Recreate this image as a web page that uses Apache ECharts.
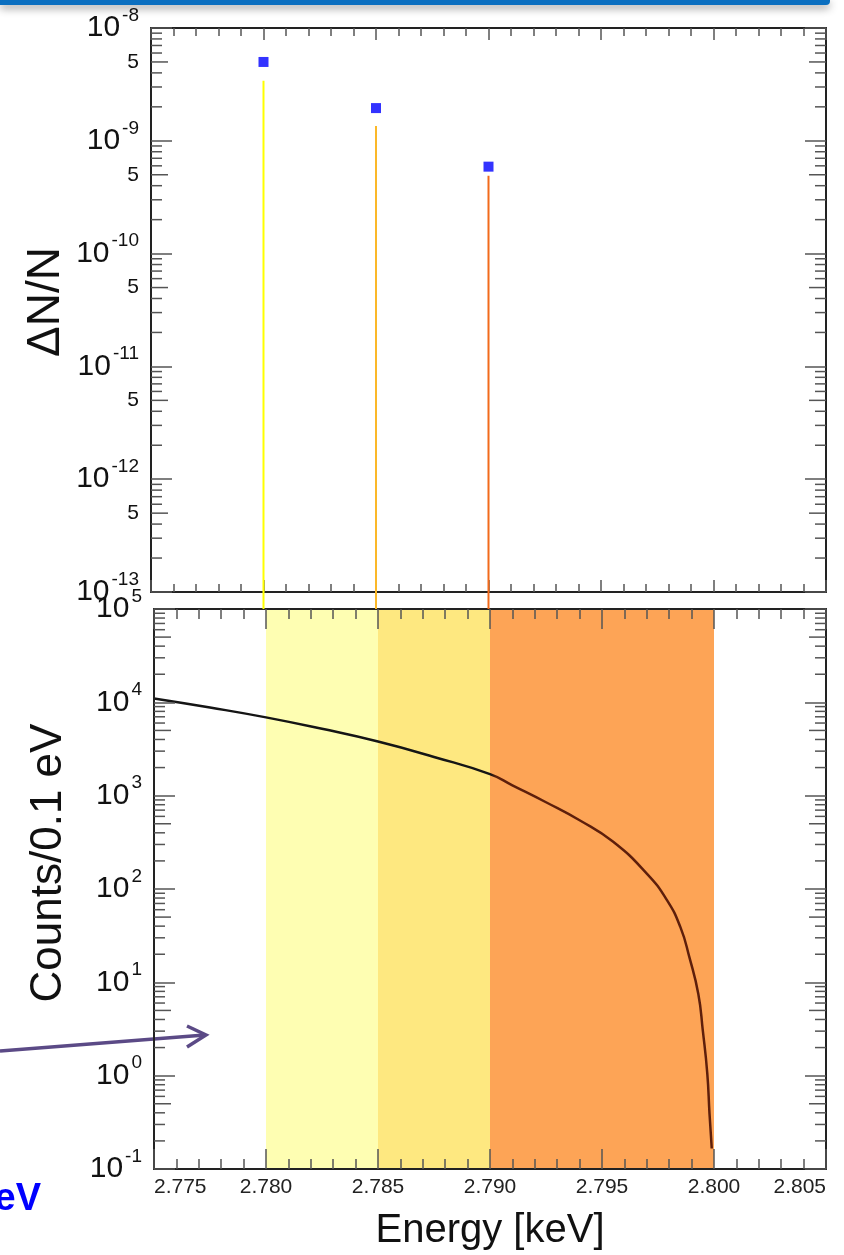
<!DOCTYPE html>
<html>
<head>
<meta charset="utf-8">
<script src="https://cdn.jsdelivr.net/npm/echarts@6.0.0/dist/echarts.min.js"></script>
<style>
html, body { margin: 0; padding: 0; background: #fff; }
#chart { width: 844px; height: 1255px; }
</style>
</head>
<body>
<div id="chart"></div>
<script>
// energy window shared by both panels
const energyMin = 2.775
const energyMax = 2.805
const energyStep = 0.005

// top panel: sensitivity for each threshold
const thresholdEnergy = [2.780, 2.785, 2.790]
const deltaN = [5.0e-9, 1.95e-9, 5.9e-10]
const deltaLineTop = [3.4e-9, 1.35e-9, 4.9e-10]
const deltaMin = 1e-13
const deltaMax = 1e-8

// bottom panel: spectrum close to the endpoint
const specEnergy = [2.775, 2.7775, 2.780, 2.7825, 2.785, 2.7875, 2.790, 2.791, 2.7925, 2.794, 2.7955, 2.797, 2.7979, 2.7985, 2.7989, 2.7993, 2.7995, 2.7997, 2.7998, 2.7999]
const specCounts = [1.1e4, 8.8e3, 6.9e3, 5.2e3, 3.8e3, 2.6e3, 1.7e3, 1.29e3, 850, 545, 320, 146, 76, 39, 18.6, 7.5, 3.05, 1.06, 0.39, 0.166]
const countsMin = 0.1
const countsMax = 1e5

// shaded windows
const bandFrom = [2.780, 2.785, 2.790]
const bandTo = [2.785, 2.790, 2.800]

const thresholdColors = ['#ffff00', '#fbb829', '#f26a1b']
const bandColors = ['#fefeb2', '#fee880', '#fda456']
const font = '"Liberation Sans", Arial, Helvetica, sans-serif'
const gapPx = 17

// minor log ticks 2..9 on both sides of each panel
function logMinors (lo, hi) {
  let out = []
  for (let e = lo; e < hi; e++) {
    for (let m = 2; m <= 9; m++) {
      out.push([energyMin, m * Math.pow(10, e)])
      out.push([energyMax, m * Math.pow(10, e)])
    }
  }
  return out
}
let fiveLabels = []
for (let e = -13; e < -8; e++) fiveLabels.push([energyMin, 5 * Math.pow(10, e)])

const frame = { show: true, onZero: false, lineStyle: { color: '#222', width: 2 } }
const tickStyle = { color: '#555', width: 1.5 }

function logLabel (v) {
  let e = Math.round(Math.log10(v))
  return '{b|10}{s|' + e + '}'
}
const logRich = {
  b: { fontSize: 30, lineHeight: 44, fontFamily: font, color: '#111' },
  s: { fontSize: 19, lineHeight: 19, verticalAlign: 'top', fontFamily: font, color: '#111', padding: [0, 0, 0, 2] }
}

function energyAxis (grid, pos, majorLen, minorLen, labels) {
  let ax = {
    type: 'value', gridIndex: grid, position: pos, z: 10,
    min: energyMin, max: energyMax, interval: energyStep,
    axisLine: frame, splitLine: { show: false },
    axisTick: { show: true, inside: true, length: majorLen, lineStyle: tickStyle },
    minorTick: { show: true, splitNumber: 5, length: minorLen, lineStyle: tickStyle },
    axisLabel: { show: false }
  }
  if (labels) {
    ax.axisLabel = {
      show: true, margin: 8, fontSize: 21, fontFamily: font, color: '#222',
      showMinLabel: true, showMaxLabel: true, alignMinLabel: 'left', alignMaxLabel: 'right',
      formatter: v => v.toFixed(3)
    }
    ax.name = 'Energy [keV]'
    ax.nameLocation = 'middle'
    ax.nameGap = 42
    ax.nameTextStyle = { fontSize: 40, fontFamily: font, color: '#111' }
  }
  return ax
}

function logAxis (grid, pos, lo, hi, labels) {
  return {
    type: 'log', logBase: 10, gridIndex: grid, position: pos, z: 10,
    min: lo, max: hi, splitNumber: 6,
    axisLine: frame, splitLine: { show: false }, minorTick: { show: false },
    axisTick: { show: true, inside: true, length: 21, lineStyle: tickStyle },
    axisLabel: labels ? {
      show: true, margin: 12, fontSize: 30, formatter: logLabel, rich: logRich,
      showMinLabel: true, showMaxLabel: true, hideOverlap: false
    } : { show: false }
  }
}

function minorTickItem (params, api) {
  let x = api.value(0)
  let y = api.value(1)
  let p = api.coord([x, y])
  let m = y / Math.pow(10, Math.floor(Math.log10(y) + 1e-9))
  let len = Math.abs(m - 5) < 0.01 ? 17 : 11
  let dir = x < (energyMin + energyMax) / 2 ? 1 : -1
  return {
    type: 'line',
    shape: { x1: p[0], y1: p[1], x2: p[0] + dir * len, y2: p[1] },
    style: { stroke: '#555', lineWidth: 1.5 }
  }
}

// curve turns dark brown once it enters the orange window
const curveSplit = (2.790 - specEnergy[0]) / (specEnergy[specEnergy.length - 1] - specEnergy[0])

const chart = echarts.init(document.getElementById('chart'))
chart.setOption({
  animation: false,
  backgroundColor: '#fff',
  grid: [
    { left: 151, top: 28, width: 675, height: 564, containLabel: false, outerBoundsMode: 'none' },
    { left: 154, top: 609, width: 672, height: 560, containLabel: false, outerBoundsMode: 'none' }
  ],
  xAxis: [
    energyAxis(0, 'bottom', 12, 8, false),
    energyAxis(0, 'top', 12, 8, false),
    energyAxis(1, 'bottom', 20, 10, true),
    energyAxis(1, 'top', 20, 10, false)
  ],
  yAxis: [
    logAxis(0, 'left', deltaMin, deltaMax, true),
    logAxis(0, 'right', deltaMin, deltaMax, false),
    logAxis(1, 'left', countsMin, countsMax, true),
    logAxis(1, 'right', countsMin, countsMax, false)
  ],
  series: [
    {
      // shaded windows
      type: 'custom', xAxisIndex: 2, yAxisIndex: 2, z: 1, silent: true,
      data: bandFrom.map((f, i) => [f, bandTo[i]]),
      renderItem: (params, api) => {
        let a = api.coord([api.value(0), countsMax])
        let b = api.coord([api.value(1), countsMin])
        return {
          type: 'rect',
          shape: { x: a[0], y: a[1], width: b[0] - a[0], height: b[1] - a[1] },
          style: { fill: bandColors[params.dataIndex] }
        }
      }
    },
    {
      type: 'line', xAxisIndex: 2, yAxisIndex: 2, z: 3,
      data: specEnergy.map((e, i) => [e, specCounts[i]]),
      showSymbol: false, smooth: 0.5,
      lineStyle: {
        width: 2.5,
        color: {
          type: 'linear', x: 0, y: 0, x2: 1, y2: 0,
          colorStops: [
            { offset: 0, color: '#151515' },
            { offset: curveSplit, color: '#151515' },
            { offset: curveSplit + 0.01, color: '#5e1f0b' },
            { offset: 1, color: '#5e1f0b' }
          ]
        }
      }
    },
    {
      // threshold lines running down into the lower panel
      type: 'custom', xAxisIndex: 0, yAxisIndex: 0, z: 12, clip: false,
      data: thresholdEnergy.map((e, i) => [e, deltaLineTop[i]]),
      renderItem: (params, api) => {
        let top = api.coord([api.value(0), api.value(1)])
        let bottom = api.coord([api.value(0), deltaMin])
        return {
          type: 'line',
          shape: { x1: top[0], y1: top[1], x2: bottom[0], y2: bottom[1] + gapPx },
          style: { stroke: thresholdColors[params.dataIndex], lineWidth: 2 }
        }
      }
    },
    {
      type: 'scatter', xAxisIndex: 0, yAxisIndex: 0, z: 12,
      data: thresholdEnergy.map((e, i) => [e, deltaN[i]]),
      symbol: 'rect', symbolSize: 10,
      itemStyle: { color: '#0000ff' }
    },
    {
      type: 'custom', xAxisIndex: 0, yAxisIndex: 0, z: 11, clip: false,
      data: logMinors(-13, -8), renderItem: minorTickItem
    },
    {
      type: 'custom', xAxisIndex: 2, yAxisIndex: 2, z: 11, clip: false,
      data: logMinors(-1, 5), renderItem: minorTickItem
    },
    {
      // "5" labels between decades on the upper panel
      type: 'custom', xAxisIndex: 0, yAxisIndex: 0, z: 11, clip: false,
      data: fiveLabels,
      renderItem: (params, api) => {
        let p = api.coord([api.value(0), api.value(1)])
        return {
          type: 'text', x: p[0] - 12, y: p[1],
          style: { text: '5', fontSize: 21, fontFamily: font, fill: '#111', align: 'right', verticalAlign: 'middle' }
        }
      }
    }
  ],
  graphic: [
    {
      type: 'rect', x: 0, y: 0, shape: { width: 830, height: 5, r: [0, 0, 4, 0] },
      style: { fill: '#0b6fc0', shadowBlur: 8, shadowColor: 'rgba(0,0,0,0.45)', shadowOffsetY: 3 }
    },
    {
      type: 'polyline', shape: { points: [[0, 1051], [205, 1035]] },
      style: { stroke: '#5b4a86', lineWidth: 3.5, fill: null }
    },
    {
      type: 'polyline', shape: { points: [[187, 1026], [206, 1035], [187, 1047]] },
      style: { stroke: '#5b4a86', lineWidth: 3.5, fill: null }
    },
    {
      type: 'text', x: 41, y: 1200,
      style: { text: 'eV', fontSize: 38, fontWeight: 'bold', fontFamily: font, fill: '#0000ff', align: 'right', verticalAlign: 'middle' }
    },
    {
      type: 'text', x: 46, y: 302, rotation: Math.PI / 2,
      style: { text: 'ΔN/N', fontSize: 46, fontFamily: font, fill: '#111', align: 'center', verticalAlign: 'middle' }
    },
    {
      type: 'text', x: 49, y: 863, rotation: Math.PI / 2,
      style: { text: 'Counts/0.1 eV', fontSize: 44, fontFamily: font, fill: '#111', align: 'center', verticalAlign: 'middle' }
    }
  ]
})
</script>
</body>
</html>
